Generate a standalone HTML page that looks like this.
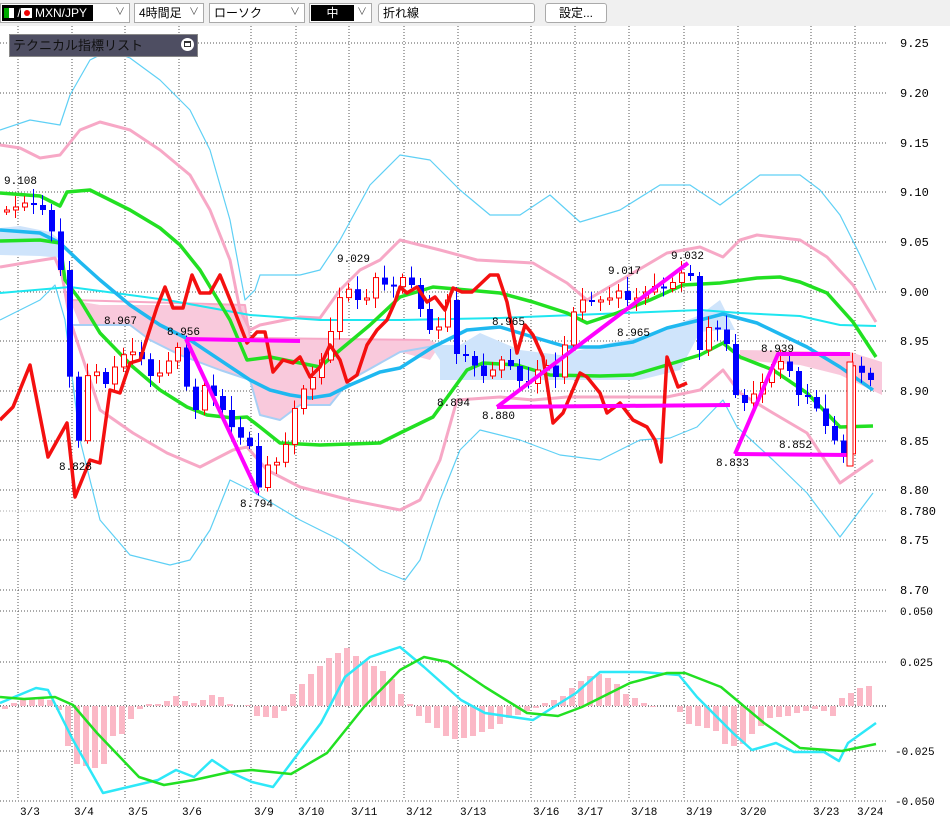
<!DOCTYPE html>
<html><head><meta charset="utf-8">
<style>
body{margin:0;background:#fff;width:950px;height:823px;overflow:hidden;font-family:"Liberation Sans","Noto Sans CJK JP",sans-serif;}
#bar{position:absolute;left:0;top:0;width:950px;height:26px;background:#f0f0f0;}
.sel{position:absolute;top:3px;height:20px;border:1px solid #aaa;background:#fff;box-sizing:border-box;font-size:12px;line-height:18px;padding-left:4px;}
.arr{position:absolute;right:4px;top:0;color:#555;font-size:10px;}
svg{position:absolute;left:0;top:0;}
</style></head><body>
<svg id="s" width="950" height="823" xmlns="http://www.w3.org/2000/svg"></svg>
<div id="bar">
 <div class="sel" style="left:0;width:130px;padding:0;"><div style="position:absolute;left:1px;top:1px;width:91px;height:16px;background:#000;color:#fff;font-size:12px;line-height:16px;"><span style="display:inline-block;width:5px;height:10px;background:#0a0;margin:3px 0 0 2px;vertical-align:top"></span><span style="display:inline-block;width:5px;height:10px;background:#fff;margin-top:3px;vertical-align:top"></span> /<span style="display:inline-block;width:11px;height:10px;background:#fff;margin-top:3px;vertical-align:top;position:relative"><span style="position:absolute;left:3px;top:2px;width:6px;height:6px;border-radius:3px;background:#e00"></span></span> MXN/JPY</div><span class="arr">∨</span></div>
 <div class="sel" style="left:134px;width:70px;">4時間足<span class="arr">∨</span></div>
 <div class="sel" style="left:209px;width:96px;">ローソク<span class="arr">∨</span></div>
 <div class="sel" style="left:309px;width:63px;padding:0;"><div style="position:absolute;left:1px;top:1px;width:43px;height:16px;background:#000;color:#fff;text-align:center;line-height:16px;">中</div><span class="arr">∨</span></div>
 <div class="sel" style="left:378px;width:157px;border-radius:3px;">折れ線</div>
 <div class="sel" style="left:545px;width:62px;text-align:center;padding:0;border-radius:3px;">設定...</div>
</div>
<div style="position:absolute;left:9px;top:34px;width:189px;height:23px;background:#4e4e62;border:1px solid #888;box-sizing:border-box;color:#111;font-size:13px;line-height:21px;padding-left:3px;">テクニカル指標リスト<span style="position:absolute;right:3px;top:3px;width:13px;height:13px;border-radius:7px;background:#fff;"><span style="position:absolute;left:3px;top:3px;width:7px;height:6px;border:1px solid #333;box-sizing:border-box;border-top-width:2px"></span></span></div>
<script>
const S=document.getElementById('s');let h='';
const Y=p=>391-(p-8.90)*994;
function pl(pts,c,w,extra){h+=`<polyline points="${pts.map(p=>p.join(',')).join(' ')}" fill="none" stroke="${c}" stroke-width="${w}" stroke-linejoin="round" ${extra||''}/>`;}
function pg(pts,c){h+=`<polygon points="${pts.map(p=>p.join(',')).join(' ')}" fill="${c}" stroke="none"/>`;}
function tx(x,y,t,c,a,fs){h+=`<text x="${x}" y="${y}" fill="${c||'#000'}" font-size="${fs||12}" font-family="Liberation Mono,monospace" ${a?'text-anchor="'+a+'"':''}>${t}</text>`;}
// grid
const vx=[18,72,125,179,251,296,349,404,458,531,575,629,684,738,811,855];
vx.forEach(x=>h+=`<line x1="${x}" y1="26" x2="${x}" y2="800" stroke="#555" stroke-dasharray="1,2"/>`);
const lv=[9.25,9.20,9.15,9.10,9.05,9.00,8.95,8.90,8.85,8.80,8.75,8.70];
lv.forEach(p=>{const y=Math.round(Y(p));h+=`<line x1="0" y1="${y}" x2="888" y2="${y}" stroke="#555" stroke-dasharray="1,2"/>`;tx(900,y+4,p.toFixed(2));});
h+=`<line x1="0" y1="511" x2="888" y2="511" stroke="#aaa" stroke-dasharray="1,2"/>`;tx(900,515,'8.780');
[[611,'0.050'],[662,'0.025'],[751,'-0.025'],[801,'-0.050']].forEach(a=>{h+=`<line x1="0" y1="${a[0]}" x2="888" y2="${a[0]}" stroke="#555" stroke-dasharray="1,2"/>`;tx(a[1][0]=='-'?895:900,a[0]+4,a[1],'#000',null,11);});
h+=`<line x1="0" y1="706" x2="888" y2="706" stroke="#000" stroke-dasharray="1,2"/>`;
// clouds
pg([[0,228],[20,226],[50,232],[60,240],[62,258],[40,256],[0,255]],'#cfe4fb');
pg([[70,300],[100,305],[245,305],[250,338],[330,338],[430,340],[440,345],[430,360],[400,352],[350,380],[330,405],[300,405],[280,420],[260,415],[250,380],[220,370],[180,355],[150,340],[130,325],[80,325]],'#f9c9dc');
pg([[430,345],[460,345],[480,333],[520,350],[560,355],[600,345],[650,335],[700,315],[720,300],[735,330],[720,330],[700,332],[680,370],[640,380],[440,380],[440,360]],'#cfe4fb');
pg([[740,350],[850,352],[882,362],[882,395],[840,375],[800,365],[740,360]],'#f9c9dc');
pl([[70,325],[130,325],[150,340],[180,355],[220,370],[250,380],[260,415],[280,420],[300,405],[330,405],[350,380],[400,352],[440,345]],'#a8cff5',2);
pl([[70,300],[245,305],[250,338],[430,340]],'#f7a8c6',2);
// BB outer thin cyan
pl([[0,130],[30,120],[60,125],[70,95],[90,60],[110,50],[130,58],[160,80],[190,110],[210,150],[230,220],[245,300],[255,290],[260,275],[300,275],[320,270],[340,240],[370,185],[400,155],[430,160],[460,190],[490,215],[520,215],[550,195],[580,222],[620,210],[660,185],[690,185],[720,205],[740,190],[760,175],[800,175],[820,190],[840,215],[860,255],[876,290]],'#5fd0f5',1.2);
pl([[0,320],[40,300],[55,285],[65,320],[80,440],[100,520],[130,555],[170,565],[190,560],[210,530],[230,480],[250,490],[300,520],[340,540],[380,570],[405,580],[420,560],[440,500],[460,450],[480,430],[520,440],[560,455],[600,460],[640,440],[670,438],[697,427],[723,400],[737,427],[773,460],[807,493],[840,537],[873,493]],'#5fd0f5',1.2);
// BB 1 pink
pl([[0,145],[20,148],[40,158],[60,155],[80,130],[100,122],[130,130],[160,150],[190,175],[210,210],[230,260],[240,310],[250,330],[260,325],[300,317],[320,318],[340,290],[360,270],[380,260],[400,240],[440,250],[477,260],[533,263],[567,283],[587,300],[633,273],[667,253],[700,247],[723,257],[740,240],[757,235],[800,240],[827,257],[853,285],[876,322]],'#f7a8c6',3);
pl([[0,267],[30,262],[55,258],[62,275],[70,320],[100,410],[133,433],[167,453],[200,467],[233,450],[247,447],[267,470],[300,487],[350,500],[400,510],[420,500],[440,460],[457,400],[500,397],[533,400],[567,397],[633,397],[667,397],[700,390],[723,370],[740,393],[773,413],[807,433],[840,483],[873,460]],'#f7a8c6',3);
// thin cyan MA
pl([[0,293],[70,287],[167,300],[250,315],[320,320],[400,320],[500,318],[600,314],[700,310],[740,313],[800,316],[840,325],[876,326]],'#1ee6f0',2);
// thick cyan
pl([[0,230],[40,233],[60,243],[80,262],[100,280],[130,305],[160,325],[190,340],[220,360],[250,380],[270,390],[290,395],[310,398],[330,395],[350,385],[380,372],[400,368],[433,347],[467,330],[500,327],[533,337],[567,347],[600,347],[633,342],[667,328],[700,320],[723,314],[757,323],[807,347],[840,367],[873,390]],'#1fb8f0',3.5);
// green
pl([[0,193],[40,196],[60,206],[67,192],[90,190],[130,210],[160,228],[180,245],[200,270],[230,320],[247,360],[270,357],[320,367],[340,350],[370,325],[400,297],[433,287],[467,290],[500,293],[533,302],[567,313],[587,323],[617,313],[650,300],[683,285],[720,283],[757,278],[780,277],[800,282],[827,293],[853,322],[876,357]],'#22e022',3.5);
pl([[0,241],[40,240],[60,243],[65,280],[80,300],[100,333],[133,367],[160,390],[187,407],[207,415],[233,418],[247,417],[260,427],[280,443],[320,445],[380,443],[400,433],[433,417],[467,370],[483,363],[517,365],[550,375],[600,376],[633,375],[667,365],[700,355],[723,343],[740,357],[773,370],[807,393],[840,427],[873,426]],'#22e022',3.5);
// candles
const ck=[[4,210],[13,207],[22,203],[31,205],[40,210],[48,230],[55,240],[62,310],[68,390],[75,450],[82,385],[90,360],[100,390],[110,370],[120,355],[130,352],[140,360],[150,380],[160,370],[170,355],[180,340],[186,410],[195,410],[205,375],[215,410],[225,410],[232,440],[245,435],[255,490],[265,465],[275,462],[285,440],[295,395],[305,385],[315,370],[325,345],[335,300],[345,288],[355,300],[365,300],[375,272],[385,290],[395,280],[405,275],[415,300],[425,330],[435,330],[445,300],[455,360],[465,355],[475,370],[485,380],[495,360],[505,360],[515,380],[525,385],[535,370],[545,365],[555,380],[565,330],[575,300],[585,300],[595,305],[605,300],[615,290],[625,300],[635,300],[645,290],[655,285],[665,290],[675,275],[685,270],[690,280],[697,350],[707,325],[717,330],[727,350],[735,410],[745,400],[755,390],[765,375],[775,360],[785,365],[795,395],[805,395],[815,410],[825,430],[835,445],[840,465],[849,365],[858,372],[868,380],[876,385]];
function cy(x){for(let i=1;i<ck.length;i++){if(x<=ck[i][0]){const a=ck[i-1],b=ck[i];return a[1]+(b[1]-a[1])*(x-a[0])/(b[0]-a[0]);}}return ck[ck.length-1][1];}
let prev=212;
for(let i=0;i<97;i++){const x=4+9*i;if(x>878)break;let c=cy(x);const o=prev;if(Math.abs(c-o)<2)c=o+(i%2?2:-2);
 const top=Math.min(o,c),bot=Math.max(o,c);const w1=4+((i*7)%11),w2=3+((i*5)%9);
 const up=c<o;const col=up?'#f00':'#00f';
 h+=`<line x1="${x+2.5}" y1="${top-w1}" x2="${x+2.5}" y2="${bot+w2}" stroke="${col}" stroke-width="1"/>`;
 if(up)h+=`<rect x="${x+0.5}" y="${top}" width="5" height="${bot-top}" fill="#fff" stroke="#f00" stroke-width="1"/>`;
 else h+=`<rect x="${x}" y="${top}" width="6" height="${bot-top}" fill="#00f"/>`;
 prev=c;}
// red line
pl([[0,420],[13,407],[30,365],[48,457],[67,423],[75,497],[90,460],[100,463],[110,390],[120,393],[130,363],[140,360],[157,307],[165,287],[173,308],[183,308],[192,275],[200,293],[210,293],[220,275],[233,307],[247,343],[257,332],[265,332],[273,372],[283,360],[293,363],[300,357],[310,377],[320,367],[330,345],[340,360],[347,382],[357,375],[367,345],[377,330],[387,320],[395,302],[400,287],[407,293],[417,287],[427,302],[435,297],[445,310],[453,288],[462,292],[472,292],[490,275],[498,275],[507,302],[517,353],[525,325],[533,335],[543,357],[553,423],[563,413],[580,373],[587,377],[600,393],[607,413],[620,403],[633,420],[647,427],[655,440],[661,462],[667,357],[678,387],[687,383]],'#f41010',3.5);
// magenta
const M='#f0f';
pl([[186,339],[300,341]],M,4);pl([[186,339],[258,493]],M,4);
pl([[497,407],[688,263]],M,4);pl([[497,407],[730,405]],M,4);
pl([[735,454],[778,354],[850,354]],M,4);pl([[735,454],[850,455]],M,4);
h+=`<rect x="847" y="362" width="6" height="104" fill="#fff" stroke="#f00"/>`;
// labels
[[4,184,'9.108'],[104,324,'8.967'],[167,335,'8.956'],[59,470,'8.828'],[240,507,'8.794'],[337,262,'9.029'],[492,325,'8.965'],[437,406,'8.894'],[482,419,'8.880'],[608,274,'9.017'],[617,336,'8.965'],[671,259,'9.032'],[716,466,'8.833'],[761,352,'8.939'],[779,448,'8.852']].forEach(a=>tx(a[0],a[1],a[2],'#000',null,11));
// MACD hist
const hv=[-3,3,6,7,8,6,-4,-40,-58,-60,-62,-58,-30,-28,-13,-3,2,2,5,10,5,3,6,11,9,2,0,1,-10,-11,-12,-5,12,22,32,40,48,53,58,50,45,40,35,27,12,2,-10,-17,-22,-30,-33,-32,-30,-26,-23,-18,-12,-9,-5,-2,3,6,10,18,25,30,32,28,22,12,8,3,-1,0,0,-6,-18,-20,-22,-25,-38,-40,-38,-28,-20,-12,-11,-10,-7,-5,-3,-5,-10,8,13,18,20];
hv.forEach((v,i)=>{const x=2+9*i;if(x>880)return;h+=`<rect x="${x}" y="${v>0?706-v:706}" width="6" height="${Math.abs(v)}" fill="#fbb8c6"/>`;});
pl([[0,703],[36,688],[48,690],[73,740],[103,793],[158,780],[176,770],[194,777],[212,760],[230,772],[252,782],[273,787],[291,763],[321,723],[345,677],[370,657],[400,647],[424,667],[461,700],[485,713],[533,720],[576,693],[600,672],[642,672],[679,675],[697,697],[733,733],[752,750],[776,743],[794,752],[824,752],[839,761],[848,743],[876,723]],'#2ee8f8',2.5);
pl([[0,697],[24,699],[55,697],[73,705],[97,733],[139,777],[164,785],[194,780],[230,772],[252,770],[291,774],[327,753],[364,707],[400,670],[424,657],[448,662],[485,687],[527,713],[558,716],[582,707],[630,683],[667,673],[685,673],[721,687],[764,723],[800,748],[842,751],[876,744]],'#22e022',2.5);
// dates
[[20,'3/3'],[74,'3/4'],[128,'3/5'],[182,'3/6'],[254,'3/9'],[298,'3/10'],[351,'3/11'],[406,'3/12'],[460,'3/13'],[533,'3/16'],[577,'3/17'],[631,'3/18'],[686,'3/19'],[740,'3/20'],[813,'3/23'],[857,'3/24']].forEach(a=>tx(a[0],815,a[1],'#000',null,11));
S.innerHTML=h;
</script>
</body></html>
